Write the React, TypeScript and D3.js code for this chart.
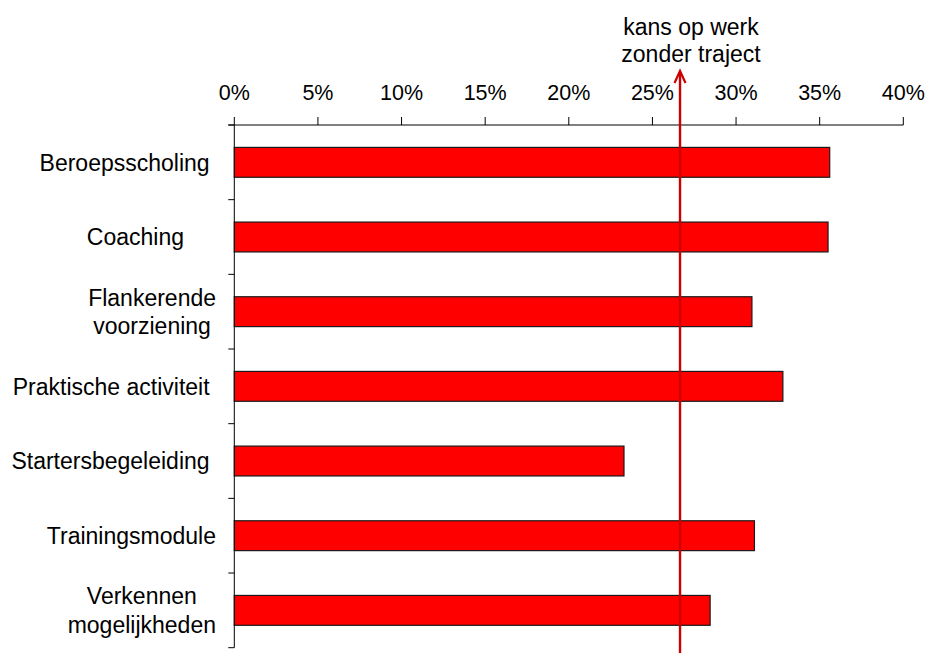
import React from "react";
import * as d3 from "d3";

const categories: string[] = [
  "Beroepsscholing ",
  "Coaching     ",
  "Flankerende\nvoorziening",
  "Praktische activiteit ",
  "Startersbegeleiding ",
  "Trainingsmodule",
  "Verkennen\nmogelijkheden",
];
const values: number[] = [35.6, 35.5, 30.95, 32.8, 23.3, 31.1, 28.45];
const referenceValue = 26.65;
const referenceLabel: string[] = ["kans op werk", "zonder traject"];
const tickValues: number[] = [0, 5, 10, 15, 20, 25, 30, 35, 40];

const W = 928;
const H = 653;
const left = 234.3;
const right = 903.3;
const top = 125;
const bottom = 647.7;

export default function App() {
  const x = d3.scaleLinear().domain([0, 40]).range([left, right]);
  const y = d3
    .scaleBand<string>()
    .domain(categories)
    .range([top, bottom])
    .paddingInner(0.6)
    .paddingOuter(0.3);
  const step = y.step();
  const font = "Liberation Sans, Arial, sans-serif";
  const rx = x(referenceValue);
  const boundaries = d3.range(categories.length + 1).map((i) => top + i * step);

  return (
    <svg
      width={W}
      height={H}
      style={{ position: "absolute", left: 0, top: 0, background: "#fff" }}
      fontFamily={font}
    >
      {/* bars */}
      {categories.map((c, i) => (
        <rect
          key={c}
          x={x(0)}
          y={y(c)!}
          width={x(values[i]) - x(0)}
          height={y.bandwidth()}
          fill="#ff0000"
          stroke="#1a1a1a"
          strokeWidth={1.2}
        />
      ))}

      {/* top axis */}
      <line x1={left - 6} x2={right} y1={top} y2={top} stroke="#000" strokeWidth={1} />
      {tickValues.map((t) => (
        <g key={t}>
          <line x1={x(t)} x2={x(t)} y1={top - 8} y2={top} stroke="#000" strokeWidth={1} />
          <text x={x(t)} y={100} textAnchor="middle" fontSize={21.5} fill="#000">
            {t}%
          </text>
        </g>
      ))}

      {/* left axis */}
      <line x1={left} x2={left} y1={top} y2={bottom} stroke="#000" strokeWidth={1} />
      {boundaries.map((b, i) => (
        <line key={i} x1={left - 6} x2={left} y1={b} y2={b} stroke="#000" strokeWidth={1} />
      ))}

      {/* category labels */}
      {categories.map((c) => {
        const lines = c.split("\n");
        const cy = y(c)! + y.bandwidth() / 2;
        if (lines.length === 1) {
          return (
            <text
              key={c}
              x={216}
              y={cy + 8.3}
              textAnchor="end"
              fontSize={23}
              fill="#000"
              style={{ whiteSpace: "pre" }}
            >
              {lines[0]}
            </text>
          );
        }
        // multi-line: lines centred on each other, block right-aligned
        return (
          <g key={c}>
            {lines.map((l, j) => (
              <text
                key={j}
                x={0}
                y={cy - 5.9 + j * 28.3}
                textAnchor="middle"
                fontSize={23}
                fill="#000"
                ref={(el) => {
                  if (!el) return;
                  const g = el.parentNode as SVGGElement;
                  const texts = Array.from(g.querySelectorAll("text")) as SVGTextElement[];
                  const maxW = Math.max(...texts.map((t) => t.getComputedTextLength()));
                  const cx = 216 - maxW / 2;
                  texts.forEach((t) => t.setAttribute("x", String(cx)));
                }}
              >
                {l}
              </text>
            ))}
          </g>
        );
      })}

      {/* reference line with arrow */}
      <line x1={rx} x2={rx} y1={72} y2={H} stroke="#cc0000" strokeWidth={2.4} />
      <polyline
        points={`${rx - 5.5},${83} ${rx},${71} ${rx + 5.5},${83}`}
        fill="none"
        stroke="#cc0000"
        strokeWidth={2.2}
      />
      {referenceLabel.map((l, j) => (
        <text
          key={l}
          x={rx + 11}
          y={35 + j * 27}
          textAnchor="middle"
          fontSize={23}
          fill="#000"
        >
          {l}
        </text>
      ))}
    </svg>
  );
}
